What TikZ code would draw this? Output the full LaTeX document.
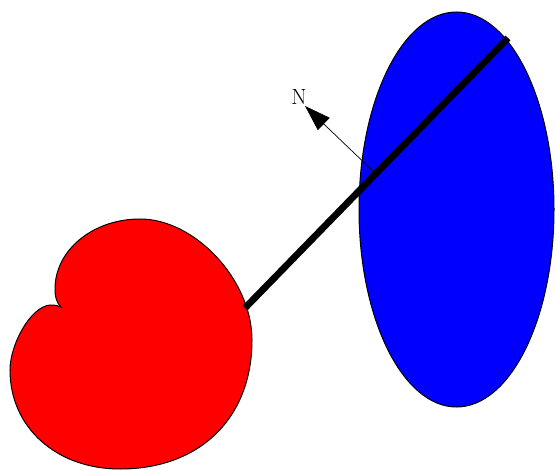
\documentclass[tikz,border=0pt]{standalone}
\usepackage{tikz}
\usetikzlibrary{arrows.meta}

\begin{document}
\begin{tikzpicture}[x=1pt, y=-1pt,
  body/.style={draw=black, line width=1pt},
  rod/.style={line width=6.8pt},
  normal/.style={line width=0.7pt, -{Triangle[length=26pt,width=17pt]}}
]
\useasboundingbox (0,0) rectangle (556,470);

%% blue body
\draw[body, fill=blue] (456.5,209.5) ellipse [x radius=97.5, y radius=197.5];

%% red body
\draw[body, fill=red] (61,307) .. controls (56,302) and (55,296) .. (55,289)
  .. controls (55,250) and (93,219) .. (140,219)
  .. controls (195,219) and (252,280) .. (252,340)
  .. controls (252,418) and (200,469) .. (120,469)
  .. controls (57,469) and (10,428) .. (10,370)
  .. controls (10,345) and (30,307) .. (50,305)
  .. controls (55,305) and (58,305.5) .. (61,307) -- cycle;

%% rod
\coordinate (rodA) at (245,308);
\coordinate (rodB) at (508,38);
\draw[rod] (rodA) -- (rodB);

%% normal
\coordinate (contact) at (375,173);
\coordinate (ntip) at (305,106);
\draw[normal] (contact) -- (ntip);
\node[font=\fontsize{22}{24}\selectfont] (nlabel) at (299,97) {N};
\end{tikzpicture}
\end{document}
